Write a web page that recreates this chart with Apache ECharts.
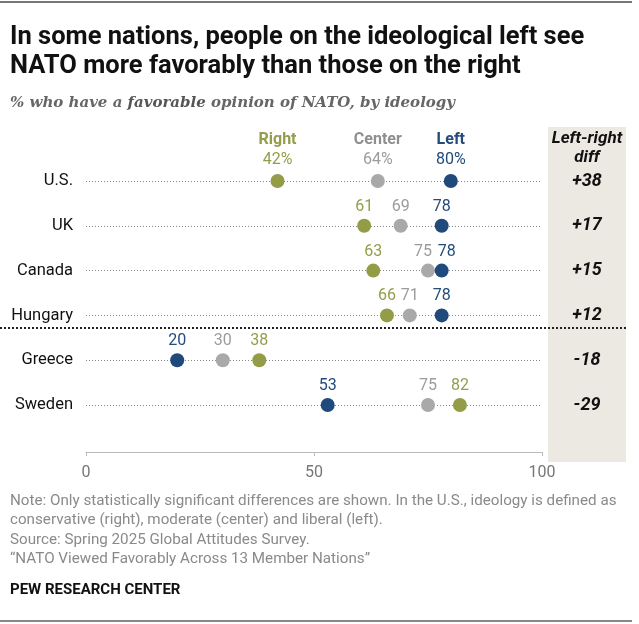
<!DOCTYPE html>
<html>
<head>
<meta charset="utf-8">
<script src="https://cdn.jsdelivr.net/npm/echarts@6/dist/echarts.min.js"></script>
<style>
  html, body { margin: 0; padding: 0; background: #fff; }
  #chart { width: 639px; height: 624px; }
</style>
</head>
<body>
<div id="chart"></div>
<script>
var countries = ['U.S.', 'UK', 'Canada', 'Hungary', 'Greece', 'Sweden'];
var rightVals = [42, 61, 63, 66, 38, 82];
var centerVals = [64, 69, 75, 71, 30, 75];
var leftVals = [80, 78, 78, 78, 20, 53];
var diffLabels = ['+38', '+17', '+15', '+12', '-18', '-29'];
var xTicks = [0, 50, 100];

var sans = 'Roboto, "Liberation Sans", sans-serif';
var serif = '"DejaVu Serif", "Liberation Serif", serif';

var colRight = '#949c47';
var colCenter = '#a9a9a9';
var colLeft = '#1f4a7b';

// small nudges where two labels would touch (Canada: 75 / 78)
var nudge = { Center: { 2: -5 }, Left: { 2: 5 } };

function makeSeries(name, vals, dotColor, textColor, headColor) {
	var shifts = nudge[name] || {};
	return {
		name: name,
		type: 'scatter',
		symbolSize: 14,
		z: 5,
		itemStyle: { color: dotColor, opacity: 1 },
		label: {
			show: true,
			position: 'top',
			distance: 4,
			fontFamily: sans,
			fontSize: 16,
			color: textColor,
			formatter: function (p) {
				if (p.dataIndex === 0) {
					return '{h|' + name + '}\n{v|' + p.value[0] + '%}';
				}
				return String(p.value[0]);
			},
			rich: {
				h: { fontFamily: sans, fontWeight: 'bold', fontSize: 16, color: headColor, lineHeight: 20 },
				v: { fontFamily: sans, fontSize: 16, color: textColor, lineHeight: 20 }
			}
		},
		labelLayout: function (params) {
			return { dx: shifts[params.dataIndex] || 0, hideOverlap: false };
		},
		emphasis: { disabled: true },
		data: vals.map(function (v, i) { return [v, countries[i]]; })
	};
}

var chart = echarts.init(document.getElementById('chart'));
var option = {
	animation: false,
	title: [{
		text: 'In some nations, people on the ideological left see\nNATO more favorably than those on the right',
		left: 5,
		top: 18,
		textStyle: { fontFamily: sans, fontWeight: 'bold', fontSize: 25.5, lineHeight: 29, color: '#111' }
	}, {
		text: '{a|% who have a }{b|favorable}{a| opinion of NATO, by ideology}',
		left: 5,
		top: 91,
		textStyle: {
			rich: {
				a: { fontFamily: serif, fontStyle: 'italic', fontSize: 15, color: '#666' },
				b: { fontFamily: serif, fontStyle: 'italic', fontWeight: 'bold', fontSize: 15, color: '#555' }
			}
		}
	}, {
		text: 'Note: Only statistically significant differences are shown. In the U.S., ideology is defined as\nconservative (right), moderate (center) and liberal (left).\nSource: Spring 2025 Global Attitudes Survey.\n\u201cNATO Viewed Favorably Across 13 Member Nations\u201d',
		left: 5,
		top: 486,
		textStyle: { fontFamily: sans, fontWeight: 'normal', fontSize: 15.2, lineHeight: 19.5, color: '#8a8a8a' }
	}, {
		text: 'PEW RESEARCH CENTER',
		left: 5,
		top: 578,
		textStyle: { fontFamily: sans, fontWeight: 'bold', fontSize: 15, color: '#111' }
	}],
	graphic: [{
		type: 'rect',
		z: -10,
		shape: { x: 548, y: 127, width: 78, height: 335 },
		style: { fill: '#ece9e2' }
	}, {
		type: 'text',
		z: 10,
		style: {
			x: 587, y: 129,
			text: 'Left-right\ndiff',
			align: 'center',
			fontFamily: sans,
			fontStyle: 'italic',
			fontWeight: 'bold',
			fontSize: 17,
			lineHeight: 19,
			fill: '#111'
		}
	}, {
		type: 'line',
		shape: { x1: 0, y1: 328, x2: 626, y2: 328 },
		style: { stroke: '#222', lineWidth: 2, lineDash: [2, 2] }
	}, {
		type: 'line',
		shape: { x1: 0, y1: 2, x2: 632, y2: 2 },
		style: { stroke: '#777', lineWidth: 2 }
	}, {
		type: 'line',
		shape: { x1: 0, y1: 621, x2: 632, y2: 621 },
		style: { stroke: '#888', lineWidth: 2 }
	}],
	grid: { left: 86, right: 97, top: 181, bottom: 219 },
	xAxis: {
		type: 'value',
		min: xTicks[0],
		max: xTicks[xTicks.length - 1],
		interval: 50,
		offset: 47,
		axisLine: { show: true, lineStyle: { color: '#bbb', width: 1 } },
		axisTick: { show: true, inside: false, length: 4, lineStyle: { color: '#bbb' } },
		axisLabel: { color: '#777', fontFamily: sans, fontSize: 16, margin: 13 },
		splitLine: { show: false }
	},
	yAxis: [{
		type: 'category',
		data: countries,
		inverse: true,
		boundaryGap: false,
		axisLine: { show: false },
		axisTick: { show: false },
		axisLabel: { interval: 0, margin: 13, color: '#111', fontFamily: sans, fontSize: 16.5 },
		splitLine: { show: true, interval: 0, lineStyle: { color: '#888', width: 1, type: [1, 2] } }
	}, {
		type: 'category',
		data: diffLabels,
		inverse: true,
		boundaryGap: false,
		position: 'right',
		axisLine: { show: false },
		axisTick: { show: false },
		splitLine: { show: false },
		axisLabel: {
			interval: 0, margin: 45, align: 'center',
			color: '#111', fontFamily: sans, fontStyle: 'italic', fontWeight: 'bold', fontSize: 18
		}
	}],
	series: [
		makeSeries('Right', rightVals, colRight, '#959d4b', '#959d4b'),
		makeSeries('Center', centerVals, colCenter, '#9c9c9c', '#8f8f8f'),
		makeSeries('Left', leftVals, colLeft, '#234b7c', '#234b7c')
	]
};
chart.setOption(option);
</script>
</body>
</html>
